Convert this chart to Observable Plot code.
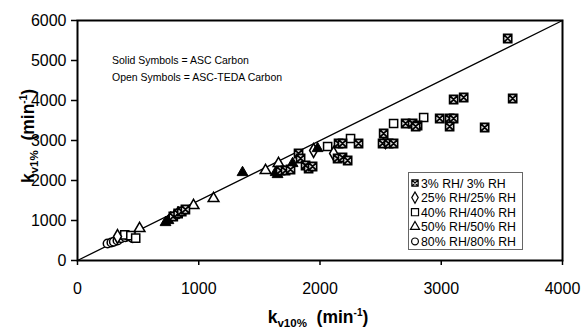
<!DOCTYPE html>
<html><head><meta charset="utf-8">
<script src="https://cdn.jsdelivr.net/npm/d3@7"></script>
<script src="https://cdn.jsdelivr.net/npm/@observablehq/plot@0.6"></script>
<style>
body{margin:0;background:#fff}
#chart{position:relative;width:581px;height:331px}
</style>
</head><body><div id="chart"></div>
<script>
// ---- data ----
const xTicks = [0, 1000, 2000, 3000, 4000];
const yTicks = [0, 1000, 2000, 3000, 4000, 5000, 6000];
const lineX = [0, 4000];
const lineY = [0, 6000];

// 3% RH / 3% RH (crossed boxes)
const rh3X = [790, 830, 860, 890, 1675, 1716, 1757, 1823, 1840, 1881, 1906, 1939, 2145, 2186, 2228, 2153, 2186, 2318, 2525, 2516, 2566, 2607, 2706, 2764, 2805, 2789, 2987, 3069, 3102, 3069, 3102, 3185, 3589, 3358, 3548];
const rh3Y = [1100, 1175, 1225, 1275, 2250, 2250, 2275, 2675, 2550, 2375, 2300, 2350, 2550, 2575, 2500, 2925, 2925, 2925, 3175, 2925, 2925, 2925, 3425, 3425, 3375, 3350, 3550, 3550, 3550, 3350, 4025, 4075, 4050, 3325, 5550];
// 25% RH / 25% RH (diamonds, open)
const rh25X = [330, 1947, 2112, 2540];
const rh25Y = [600, 2750, 2675, 2975];
// 40% RH / 40% RH (squares, open)
const rh40X = [390, 440, 480, 2063, 2252, 2607, 2855];
const rh40Y = [640, 620, 560, 2850, 3050, 3425, 3575];
// 50% RH / 50% RH (triangles) - open (ASC-TEDA) and solid (ASC)
const rh50OpenX = [512, 957, 1122, 1551, 1658];
const rh50OpenY = [800, 1375, 1550, 2250, 2425];
const rh50SolidX = [726, 750, 770, 800, 830, 1361, 1634, 1650, 1774, 1980];
const rh50SolidY = [950, 1000, 1075, 1125, 1200, 2200, 2200, 2150, 2425, 2800];
// 80% RH / 80% RH (circles, open)
const rh80X = [248, 280, 300, 330, 360, 395, 420, 455];
const rh80Y = [425, 450, 470, 500, 560, 580, 610, 560];

const legendLabels = ["3% RH/ 3% RH", "25% RH/25% RH", "40% RH/40% RH", "50% RH/50% RH", "80% RH/80% RH"];
const noteLines = ["Solid Symbols = ASC Carbon", "Open Symbols = ASC-TEDA Carbon"];

// ---- build ----
const pts = (xs, ys) => xs.map((x, i) => ({x, y: ys[i]}));
const crossBox = {
  draw(ctx, size) {
    const s = Math.sqrt(size) / 2;
    ctx.moveTo(-s, -s); ctx.lineTo(s, -s); ctx.lineTo(s, s); ctx.lineTo(-s, s); ctx.closePath();
    ctx.moveTo(-s, -s); ctx.lineTo(s, s);
    ctx.moveTo(s, -s); ctx.lineTo(-s, s);
  }
};
const FONT = "Arial, 'Liberation Sans', sans-serif";

const plot = Plot.plot({
  width: 581, height: 331,
  marginLeft: 77, marginRight: 19, marginTop: 20, marginBottom: 71,
  style: {fontFamily: FONT, fontSize: "16px", color: "black", background: "white"},
  x: {domain: [0, 4000]},
  y: {domain: [0, 6000]},
  marks: [
    Plot.axisX({ticks: xTicks, tickSize: 5, tickPadding: 17, label: null, tickFormat: d => String(d), strokeWidth: 1.5}),
    Plot.axisY({ticks: yTicks, tickSize: 6, tickPadding: 5, label: null, tickFormat: d => String(d), strokeWidth: 1.5}),
    Plot.line(pts(lineX, lineY), {x: "x", y: "y", stroke: "black", strokeWidth: 1.3}),
    Plot.dot(pts(rh80X, rh80Y), {x: "x", y: "y", symbol: "circle", r: 4.3, stroke: "black", fill: "white", strokeWidth: 1.5}),
    Plot.dot(pts(rh40X, rh40Y), {x: "x", y: "y", symbol: "square", r: 4.6, stroke: "black", fill: "white", strokeWidth: 1.5}),
    Plot.dot(pts(rh25X, rh25Y), {x: "x", y: "y", symbol: "diamond", r: 4.2, stroke: "black", fill: "white", strokeWidth: 1.5}),
    Plot.dot(pts(rh50OpenX, rh50OpenY), {x: "x", y: "y", symbol: "triangle", r: 4, stroke: "black", fill: "white", strokeWidth: 1.5}),
    Plot.dot(pts(rh50SolidX, rh50SolidY), {x: "x", y: "y", symbol: "triangle", r: 4, stroke: "black", fill: "black", strokeWidth: 1}),
    Plot.dot(pts(rh3X, rh3Y), {x: "x", y: "y", symbol: crossBox, r: 4.6, stroke: "black", fill: "#ddd", strokeWidth: 1.6}),
    Plot.frame({stroke: "black", strokeWidth: 2})
  ]
});
document.getElementById("chart").appendChild(plot);

// ---- annotations, axis titles, legend ----
const svg = d3.select(plot);
const g = svg.append("g").attr("font-family", FONT).attr("fill", "black").attr("text-anchor", "start");

noteLines.forEach((t, i) => {
  g.append("text").attr("x", 112).attr("y", 64 + i * 17).attr("font-size", 10.5).attr("text-anchor", "start").text(t);
});

// x axis title
const xt = g.append("text").attr("x", 318).attr("y", 323).attr("text-anchor", "middle")
  .attr("font-size", 17.5).attr("font-weight", "bold");
xt.append("tspan").text("k");
xt.append("tspan").attr("font-size", 11.5).attr("dy", 4).text("v10%");
xt.append("tspan").attr("dy", -4).text("\u00a0 (min");
xt.append("tspan").attr("font-size", 10).attr("dy", -7).text("-1");
xt.append("tspan").attr("dy", 7).text(")");

// y axis title
const yt = g.append("text").attr("transform", "translate(34,136) rotate(-90)").attr("text-anchor", "middle")
  .attr("font-size", 17.5).attr("font-weight", "bold");
yt.append("tspan").text("k");
yt.append("tspan").attr("font-size", 11.5).attr("dy", 4).text("v1%");
yt.append("tspan").attr("dy", -4).text("\u00a0 (min");
yt.append("tspan").attr("font-size", 10).attr("dy", -7).text("-1");
yt.append("tspan").attr("dy", 7).text(")");

// legend
const lg = g.append("g");
lg.append("rect").attr("x", 408.5).attr("y", 172.5).attr("width", 114).attr("height", 77)
  .attr("fill", "white").attr("stroke", "#666").attr("stroke-width", 1);
const legSyms = [crossBox, d3.symbolDiamond, d3.symbolSquare, d3.symbolTriangle, d3.symbolCircle];
const legSizes = [40, 36, 50, 36, 36];
legendLabels.forEach((t, i) => {
  const cy = 183 + i * 14.6;
  lg.append("path").attr("transform", `translate(415,${cy})`)
    .attr("d", d3.symbol(legSyms[i], legSizes[i])())
    .attr("fill", i === 0 ? "#ddd" : "white").attr("stroke", "black").attr("stroke-width", 1.2);
  lg.append("text").attr("x", 421).attr("y", cy + 4.5).attr("font-size", 12.3).attr("text-anchor", "start").text(t);
});
</script>
</body></html>
